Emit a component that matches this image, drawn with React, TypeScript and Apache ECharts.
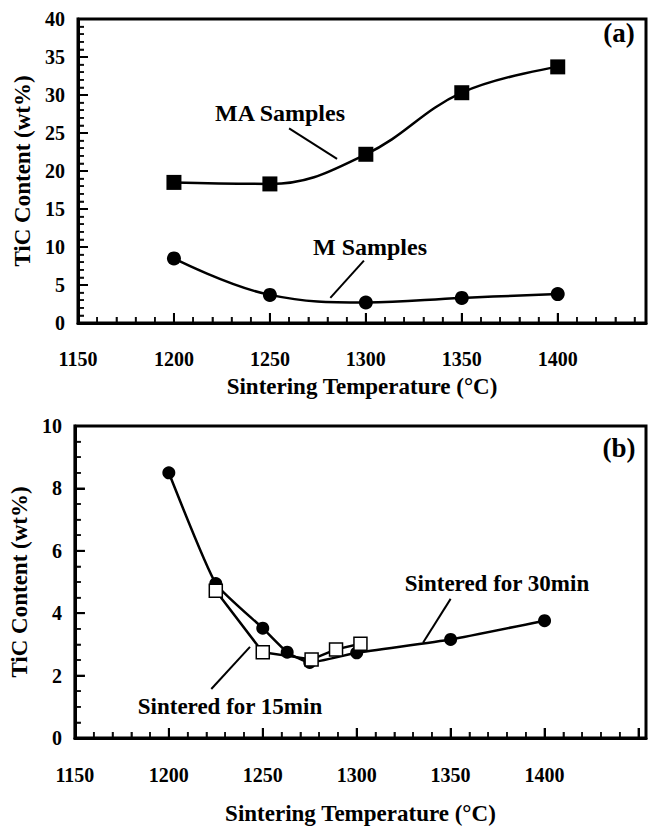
import React, { useEffect, useRef } from "react";
import * as echarts from "echarts";

// Panel (a)
const tempsA = [1200, 1250, 1300, 1350, 1400];
const maSamples = [18.5, 18.3, 22.2, 30.3, 33.7];
const mSamples = [8.5, 3.7, 2.7, 3.3, 3.8];

// Panel (b)
const temps30 = [1200, 1225, 1250, 1263, 1275, 1300, 1350, 1400];
const sintered30 = [8.5, 4.95, 3.52, 2.75, 2.42, 2.73, 3.16, 3.76];
const temps15 = [1225, 1250, 1276, 1289, 1302];
const sintered15 = [4.72, 2.75, 2.52, 2.84, 3.02];

const xTitle = "Sintering Temperature (°C)";
const yTitle = "TiC Content (wt%)";

const FONT = "Liberation Serif";

const pairs = (xs: number[], ys: number[]) => xs.map((x, i) => [x, ys[i]]);

// tick positions (axis decoration, stepped along the axis range)
const steps = (from: number, to: number, step: number) => {
  const out: number[] = [];
  for (let i = 0; from + i * step <= to + 1e-9; i++) out.push(+(from + i * step).toFixed(3));
  return out;
};
const isMajor = (v: number, major: number) => Math.abs(v / major - Math.round(v / major)) < 1e-6;

function arrow(from: number[], to: number[]) {
  return {
    silent: true,
    symbol: ["none", "arrow"],
    symbolSize: [0, 14],
    lineStyle: { color: "#000", width: 2, type: "solid" },
    label: { show: false },
    data: [[{ coord: from }, { coord: to }]],
  };
}

const labelStyle = () => ({ fontFamily: FONT, fontWeight: "bold", fontSize: 20, color: "#000" });
const nameStyle = () => ({ fontFamily: FONT, fontWeight: "bold", fontSize: 23, color: "#000" });

const xAxisMain = (gi: number, max: number, margin: number, gap: number) => ({
  gridIndex: gi,
  type: "value",
  position: "bottom",
  min: 1150,
  max,
  interval: 50,
  axisLine: { show: true, onZero: false, lineStyle: { color: "#000", width: 3 } },
  axisTick: { show: true, inside: true, length: 10, lineStyle: { color: "#000", width: 2 } },
  minorTick: { show: true, splitNumber: 5, length: 6, lineStyle: { color: "#000", width: 1.5 } },
  splitLine: { show: false },
  axisLabel: {
    ...labelStyle(),
    margin,
    formatter: (v: number) => (v <= 1400 ? String(v) : ""),
  },
  name: xTitle,
  nameLocation: "middle",
  nameGap: gap,
  nameTextStyle: nameStyle(),
});

const yAxisMain = (gi: number, max: number, interval: number, split: number, gap: number) => ({
  gridIndex: gi,
  type: "value",
  position: "left",
  min: 0,
  max,
  interval,
  axisLine: { show: true, onZero: false, lineStyle: { color: "#000", width: 3 } },
  axisTick: { show: true, inside: true, length: 10, lineStyle: { color: "#000", width: 2 } },
  minorTick: { show: true, splitNumber: split, length: 6, lineStyle: { color: "#000", width: 1.5 } },
  splitLine: { show: false },
  axisLabel: { ...labelStyle(), margin: 13 },
  name: yTitle,
  nameLocation: "middle",
  nameGap: gap,
  nameTextStyle: nameStyle(),
});

const tickSeries = (gi: number, values: number[], major: number, axis: "x" | "y", xMin: number) => {
  const majors = values.filter((v) => isMajor(v, major));
  const minors = values.filter((v) => !isMajor(v, major));
  const mk = (vals: number[], len: number, w: number) => ({
    type: "scatter",
    xAxisIndex: gi,
    yAxisIndex: gi,
    silent: true,
    clip: false,
    z: 1,
    symbol: "rect",
    symbolSize: axis === "x" ? [w, len] : [len, w],
    symbolOffset: axis === "x" ? [0, -len / 2] : [len / 2, 0],
    itemStyle: { color: "#000" },
    emphasis: { disabled: true },
    tooltip: { show: false },
    data: vals.map((v) => (axis === "x" ? [v, 0] : [xMin, v])),
  });
  return [mk(majors, 10, 2), mk(minors, 6, 1.5)];
};

export default function App() {
  const ref = useRef<HTMLDivElement>(null);
  useEffect(() => {
    if (!ref.current) return;
    const chart = echarts.init(ref.current, null, { renderer: "svg" });
    chart.setOption({
      animation: false,
      grid: [
        { left: 78, top: 19, width: 569, height: 304, show: true, borderColor: "#000", borderWidth: 3 },
        { left: 71, top: 426, width: 578, height: 312, show: true, borderColor: "#000", borderWidth: 3 },
      ],
      xAxis: [xAxisMain(0, 1446, 26, 52), xAxisMain(1, 1454, 27, 64)],
      yAxis: [yAxisMain(0, 40, 5, 5, 43), yAxisMain(1, 10, 2, 4, 37)],
      series: [
        ...tickSeries(0, steps(1160, 1440, 10), 50, "x", 1150),
        ...tickSeries(0, steps(1, 39, 1), 5, "y", 1150),
        ...tickSeries(1, steps(1160, 1450, 10), 50, "x", 1150),
        ...tickSeries(1, steps(0.5, 9.5, 0.5), 2, "y", 1150),
        {
          name: "MA Samples",
          type: "line",
          xAxisIndex: 0,
          yAxisIndex: 0,
          data: pairs(tempsA, maSamples),
          smooth: 0.4,
          symbol: "rect",
          symbolSize: 15,
          itemStyle: { color: "#000" },
          lineStyle: { color: "#000", width: 2.5 },
          z: 3,
          markLine: arrow([1260, 25.6], [1285, 21.6]),
        },
        {
          name: "M Samples",
          type: "line",
          xAxisIndex: 0,
          yAxisIndex: 0,
          data: pairs(tempsA, mSamples),
          smooth: 0.4,
          symbol: "circle",
          symbolSize: 14,
          itemStyle: { color: "#000" },
          lineStyle: { color: "#000", width: 2.5 },
          z: 3,
          markLine: arrow([1299, 8.2], [1281.5, 3.3]),
        },
        {
          name: "Sintered for 30min",
          type: "line",
          xAxisIndex: 1,
          yAxisIndex: 1,
          data: pairs(temps30, sintered30),
          smooth: 0.15,
          symbol: "circle",
          symbolSize: 13,
          itemStyle: { color: "#000" },
          lineStyle: { color: "#000", width: 2.5 },
          z: 3,
          markLine: arrow([1350, 4.46], [1335.3, 3.05]),
        },
        {
          name: "Sintered for 15min",
          type: "line",
          xAxisIndex: 1,
          yAxisIndex: 1,
          data: pairs(temps15, sintered15),
          smooth: false,
          symbol: "rect",
          symbolSize: 13,
          itemStyle: { color: "#fff", borderColor: "#000", borderWidth: 1.5 },
          lineStyle: { color: "#000", width: 2.5 },
          z: 4,
          markLine: arrow([1222.6, 1.57], [1243.2, 2.92]),
        },
      ],
      graphic: [
        { type: "text", x: 280, y: 113, style: { text: "MA Samples", font: `bold 24px "${FONT}"`, fill: "#000", align: "center", verticalAlign: "middle" } },
        { type: "text", x: 370, y: 247, style: { text: "M Samples", font: `bold 24px "${FONT}"`, fill: "#000", align: "center", verticalAlign: "middle" } },
        { type: "text", x: 619, y: 33, style: { text: "(a)", font: `bold 27px "${FONT}"`, fill: "#000", align: "center", verticalAlign: "middle" } },
        { type: "text", x: 497, y: 583, style: { text: "Sintered for 30min", font: `bold 23px "${FONT}"`, fill: "#000", align: "center", verticalAlign: "middle" } },
        { type: "text", x: 230, y: 706, style: { text: "Sintered for 15min", font: `bold 23px "${FONT}"`, fill: "#000", align: "center", verticalAlign: "middle" } },
        { type: "text", x: 619, y: 448, style: { text: "(b)", font: `bold 27px "${FONT}"`, fill: "#000", align: "center", verticalAlign: "middle" } },
      ],
    });
    return () => chart.dispose();
  }, []);
  return <div ref={ref} style={{ position: "absolute", left: 0, top: 0, width: 649, height: 827, background: "#fff" }} />;
}
